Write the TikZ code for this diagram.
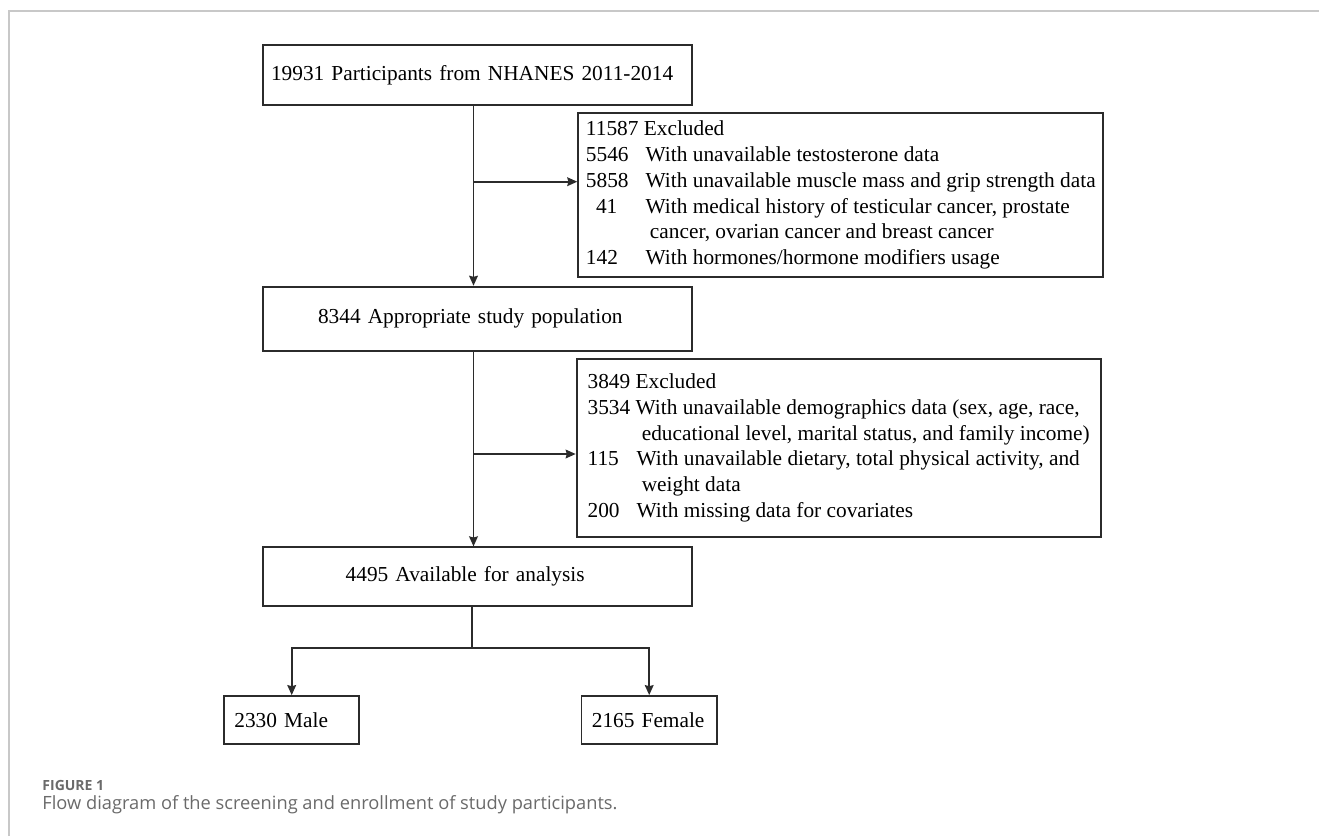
\documentclass[tikz,border=0pt]{standalone}
\usepackage{fontspec}
\setmainfont{Liberation Serif}
\newfontfamily\capfont{Open Sans}
\usepackage{tikz}
\usetikzlibrary{arrows.meta}

\definecolor{linegray}{HTML}{2B2B2B}
\definecolor{framegray}{HTML}{C8C8C8}
\definecolor{capgray}{HTML}{6A6A6A}

\begin{document}
\begin{tikzpicture}[->,>={Stealth[length=7.5pt,width=6.5pt,inset=0.8pt]},x=0.75pt,y=-0.75pt,line width=1.4pt,draw=linegray,
  main box/.style={draw=linegray,-,inner xsep=5.8pt,inner ysep=0pt,text width=309.7pt,align=left,
    font=\fontsize{16}{19.35}\selectfont},
  excl box/.style={draw=linegray,-,inner xsep=5.8pt,inner ysep=0pt,align=left,anchor=west,
    font=\fontsize{16}{19.35}\selectfont},
  sex box/.style={main box,inner xsep=7.75pt,text width=86pt,minimum height=36.2pt}]

  \useasboundingbox (0,0) rectangle (1319,836);
  \draw[-,framegray,line width=0.8pt] (9,836) -- (9,11) -- (1319,11);

  \node[main box,minimum height=45pt] (start) at (477.5,75) {19931 Participants from NHANES 2011-2014};
  \node[excl box,minimum height=123.5pt] (excl1) at (577.3,195) {11587 Excluded\\
    \makebox[2.8em][l]{5546}With unavailable testosterone data\\
    \makebox[2.8em][l]{5858}With unavailable muscle mass and grip strength data\\
    \makebox[2.8em][l]{\hspace{0.47em}41}With medical history of testicular cancer, prostate\\
    \hspace*{3em}cancer, ovarian cancer and breast cancer\\
    \makebox[2.8em][l]{142}With hormones/hormone modifiers usage};
  \node[main box,minimum height=48pt] (pop) at (477.5,318.7) {\hspace*{35.25pt}8344 Appropriate study population};
  \node[excl box,inner xsep=8.25pt,minimum height=133.3pt] (excl2) at (575.7,447.9) {3849 Excluded\\
    3534 With unavailable demographics data (sex, age, race,\\
    \hspace*{2.54em}educational level, marital status, and family income)\\
    \makebox[2.3em][l]{115}With unavailable dietary, total physical activity, and\\
    \hspace*{2.54em}weight data\\
    \makebox[2.3em][l]{200}With missing data for covariates};
  \node[main box,minimum height=44pt] (avail) at (477.5,576.7) {\hspace*{56pt}4495 Available for analysis};
  \node[sex box] (male) at (291.7,720.2) {2330 Male};
  \node[sex box] (female) at (649.2,720.2) {2165 Female};

  \coordinate (fork1) at (473.5,181.7);
  \coordinate (fork2) at (473.5,454);
  \coordinate (split) at (471.7,648.3);

  % main flow
  \draw ([xshift=-3pt]start.south) -- ([xshift=-3pt]pop.north);
  \draw ([xshift=-3pt]pop.south) -- ([xshift=-3pt]avail.north);
  \draw (fork1) -- (fork1 -| excl1.west);
  \draw (fork2) -- (fork2 -| excl2.west);

  % split by sex
  \draw[-] (avail.south -| split) -- (split);
  \draw (split) -| (male.north);
  \draw (split) -| (female.north);

  \node[anchor=west,inner sep=0pt,text=capgray,font=\capfont\bfseries\fontsize{10.5}{12}\selectfont] (fignum) at (41.5,785) {FIGURE 1};
  \node[anchor=west,inner sep=0pt,text=capgray,font=\capfont\fontsize{13.7}{16}\selectfont] (caption) at (41.5,805) {Flow diagram of the screening and enrollment of study participants.};
\end{tikzpicture}
\end{document}
